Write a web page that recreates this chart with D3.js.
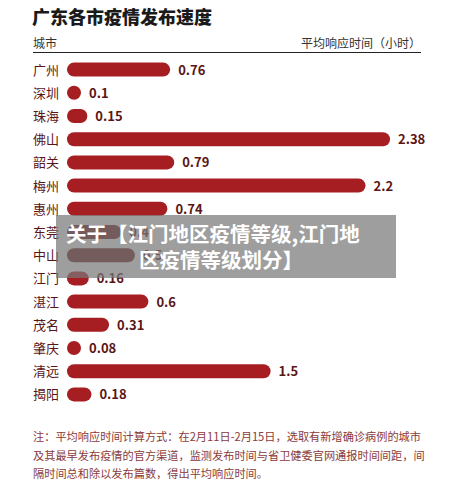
<!DOCTYPE html><html><head><meta charset="utf-8"><script src="https://cdn.jsdelivr.net/npm/d3@7"></script>
<style>body{margin:0;background:#fff}</style></head><body><svg id="c" width="453" height="493"></svg>
<script>
const cities=["广州","深圳","珠海","佛山","韶关","梅州","惠州","东莞","中山","江门","湛江","茂名","肇庆","清远","揭阳"];
const values=[0.76,0.1,0.15,2.38,0.79,2.2,0.74,0.4,0.5,0.16,0.6,0.31,0.08,1.5,0.18];
const dark=["东莞","中山"];
const notes=["注：平均响应时间计算方式：在2月11日-2月15日，选取有新增确诊病例的城市","及其最早发布疫情的官方渠道，监测发布时间与省卫健委官网通报时间间距，间","隔时间总和除以发布篇数，得出平均响应时间。"];
const svg=d3.select("#c");const F="'Noto Sans CJK SC',sans-serif";
svg.append("text").attr("x",32).attr("y",24).attr("font-family",F).attr("font-size",18).attr("font-weight",900).attr("fill","#1a1a1a").text("广东各市疫情发布速度");
svg.append("text").attr("x",33).attr("y",48).attr("font-family",F).attr("font-size",12).attr("fill","#333").text("城市");
svg.append("text").attr("x",421).attr("y",48).attr("text-anchor","end").attr("font-family",F).attr("font-size",12).attr("fill","#333").text("平均响应时间（小时）");
svg.append("line").attr("x1",33).attr("x2",421).attr("y1",52.5).attr("y2",52.5).attr("stroke","#222").attr("stroke-width",1);
const y=d3.scaleBand().domain(cities).range([58,406]).paddingInner(0.4).paddingOuter(0.2);
const x=d3.scaleLinear().domain([0,2.38]).range([0,323]);
const h=14;
const g=svg.selectAll("g.r").data(cities).join("g").attr("transform",d=>`translate(0,${y(d)+y.bandwidth()/2})`);
g.append("text").attr("x",33).attr("y",5).attr("font-family",F).attr("font-size",13).attr("fill","#5a1515").text(d=>d);
g.append("rect").attr("x",67).attr("y",-h/2).attr("height",h).attr("rx",h/2).attr("width",(d,i)=>Math.max(h,x(values[i]))).attr("fill",d=>dark.includes(d)?"#6e1212":"#a61e22");
g.append("text").attr("x",(d,i)=>67+Math.max(h,x(values[i]))+8).attr("y",5).attr("font-family",F).attr("font-size",13).attr("font-weight",700).attr("fill","#5a1515").text((d,i)=>values[i]);
svg.append("rect").attr("x",56).attr("y",215).attr("width",340).attr("height",63).attr("fill","rgba(120,120,120,0.72)");
svg.append("text").attr("x",66).attr("y",242).attr("font-family",F).attr("font-size",20.5).attr("font-weight",700).attr("fill","#fff").text("关于【江门地区疫情等级,江门地");
svg.append("text").attr("x",139).attr("y",268).attr("font-family",F).attr("font-size",20.5).attr("font-weight",700).attr("fill","#fff").text("区疫情等级划分】");
notes.forEach((t,i)=>svg.append("text").attr("x",33).attr("y",441+i*18.5).attr("font-family",F).attr("font-size",11.2).attr("fill","#8a3a3a").text(t));
</script></body></html>
